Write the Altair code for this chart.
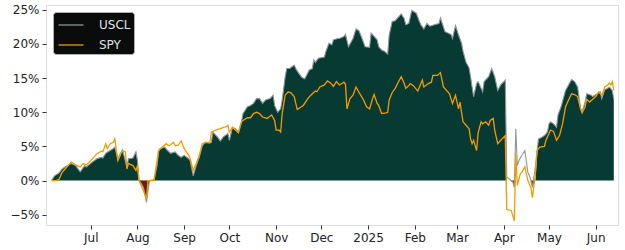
import altair as alt
import pandas as pd

uscl_dates = ["2024-06-05","2024-06-07","2024-06-10","2024-06-12","2024-06-14","2024-06-18","2024-06-21","2024-06-24","2024-06-27","2024-06-28",
 "2024-07-02","2024-07-05","2024-07-08","2024-07-09","2024-07-11","2024-07-16","2024-07-17","2024-07-19","2024-07-22","2024-07-24",
 "2024-07-25","2024-07-26","2024-07-29","2024-07-31","2024-08-01","2024-08-02","2024-08-05","2024-08-07","2024-08-08","2024-08-09",
 "2024-08-12","2024-08-14","2024-08-15","2024-08-16","2024-08-19","2024-08-21","2024-08-23","2024-08-26","2024-08-28","2024-08-30",
 "2024-09-01","2024-09-04","2024-09-05","2024-09-07","2024-09-09","2024-09-11","2024-09-13","2024-09-15","2024-09-19","2024-09-20",
 "2024-09-23","2024-09-25","2024-09-27","2024-09-30","2024-10-01","2024-10-03","2024-10-05","2024-10-07","2024-10-09","2024-10-10",
 "2024-10-13","2024-10-15","2024-10-17","2024-10-19","2024-10-21","2024-10-23","2024-10-25","2024-10-28","2024-10-30","2024-10-31",
 "2024-11-02","2024-11-04","2024-11-05","2024-11-07","2024-11-08","2024-11-10","2024-11-13","2024-11-14","2024-11-16","2024-11-18",
 "2024-11-20","2024-11-23","2024-11-25","2024-11-26","2024-11-27","2024-11-29","2024-12-03","2024-12-04","2024-12-06","2024-12-08",
 "2024-12-09","2024-12-12","2024-12-13","2024-12-16","2024-12-17","2024-12-19","2024-12-22","2024-12-24","2024-12-26","2024-12-28",
 "2024-12-30","2025-01-02","2025-01-03","2025-01-05","2025-01-07","2025-01-08","2025-01-10","2025-01-12","2025-01-14","2025-01-15",
 "2025-01-17","2025-01-19","2025-01-21","2025-01-23","2025-01-25","2025-01-26","2025-01-28","2025-01-30","2025-02-02","2025-02-04",
 "2025-02-05","2025-02-07","2025-02-09","2025-02-11","2025-02-14","2025-02-17","2025-02-18","2025-02-21","2025-02-23","2025-02-25",
 "2025-02-26","2025-02-28","2025-03-02","2025-03-04","2025-03-05","2025-03-07","2025-03-09","2025-03-10","2025-03-11","2025-03-12",
 "2025-03-14","2025-03-15","2025-03-18","2025-03-19","2025-03-22","2025-03-24","2025-03-26","2025-03-28","2025-03-30","2025-04-02",
 "2025-04-03","2025-04-05","2025-04-07","2025-04-08","2025-04-09","2025-04-10","2025-04-11","2025-04-13","2025-04-15","2025-04-17",
 "2025-04-18","2025-04-19","2025-04-20","2025-04-22","2025-04-24","2025-04-26","2025-04-28","2025-04-30","2025-05-01","2025-05-02",
 "2025-05-04","2025-05-06","2025-05-07","2025-05-09","2025-05-12","2025-05-14","2025-05-16","2025-05-18","2025-05-20","2025-05-22",
 "2025-05-23","2025-05-25","2025-05-26","2025-05-29","2025-05-30","2025-06-02","2025-06-04","2025-06-05","2025-06-07","2025-06-09",
 "2025-06-10","2025-06-12","2025-06-13"]
uscl_vals = [0.0,0.7,1.1,1.7,2.0,2.5,2.2,1.3,2.2,2.0,
 2.7,3.2,3.4,3.3,4.0,4.7,4.9,3.2,4.5,2.9,
 1.9,3.2,3.3,4.2,2.9,0.1,-1.0,-3.2,-1.5,0.0,
 0.1,2.2,4.2,4.7,4.9,4.4,4.0,4.2,3.7,3.4,
 3.7,3.2,2.9,0.7,2.2,3.4,5.1,5.6,5.6,7.1,
 6.4,5.8,6.4,6.9,5.9,7.8,7.6,7.1,8.6,9.8,
 10.8,11.0,11.3,12.0,12.0,11.3,11.8,12.0,12.5,11.0,
 10.0,10.5,11.8,15.2,16.4,16.4,16.9,16.4,15.7,15.1,
 14.9,16.2,16.4,17.7,17.3,17.9,18.1,18.9,20.1,19.9,
 20.6,20.8,20.8,21.1,21.4,19.6,20.8,22.2,21.9,20.8,
 19.6,19.5,21.6,21.1,20.6,19.6,19.1,18.9,18.5,21.3,
 23.3,23.4,23.9,24.4,23.7,22.8,23.0,24.9,24.5,23.3,
 22.8,22.2,23.0,22.6,22.8,23.0,23.8,21.8,21.6,21.4,
 20.8,22.7,21.3,20.1,18.9,17.3,16.5,15.2,13.7,12.3,
 14.2,14.5,13.0,14.5,15.2,16.4,15.2,13.2,14.0,14.7,
 0.5,0.2,-0.2,-1.0,7.6,2.2,2.9,3.7,4.4,1.2,
 0.7,0.0,-1.0,2.0,6.1,6.3,6.6,7.1,8.3,8.6,
 8.3,7.8,9.6,10.8,13.2,14.0,14.8,14.5,13.7,10.5,
 10.1,11.5,12.7,12.5,12.3,12.7,13.0,12.0,13.3,13.5,
 13.7,13.2,11.9]

spy_dates = ["2024-06-05","2024-06-08","2024-06-10","2024-06-12","2024-06-14","2024-06-18","2024-06-21","2024-06-24","2024-06-26","2024-06-28",
 "2024-07-01","2024-07-05","2024-07-08","2024-07-09","2024-07-11","2024-07-12","2024-07-14","2024-07-16","2024-07-17","2024-07-18",
 "2024-07-19","2024-07-22","2024-07-24","2024-07-25","2024-07-26","2024-07-29","2024-07-31","2024-08-01","2024-08-02","2024-08-05",
 "2024-08-07","2024-08-08","2024-08-10","2024-08-12","2024-08-14","2024-08-15","2024-08-18","2024-08-20","2024-08-22","2024-08-25",
 "2024-08-26","2024-08-28","2024-08-30","2024-09-01","2024-09-04","2024-09-05","2024-09-07","2024-09-09","2024-09-11","2024-09-13",
 "2024-09-15","2024-09-18","2024-09-19","2024-09-23","2024-09-25","2024-09-27","2024-09-29","2024-09-30","2024-10-01","2024-10-03",
 "2024-10-05","2024-10-07","2024-10-09","2024-10-10","2024-10-13","2024-10-15","2024-10-17","2024-10-19","2024-10-21","2024-10-23",
 "2024-10-26","2024-10-29","2024-10-31","2024-11-01","2024-11-03","2024-11-04","2024-11-05","2024-11-07","2024-11-09","2024-11-11",
 "2024-11-13","2024-11-15","2024-11-17","2024-11-19","2024-11-22","2024-11-24","2024-11-27","2024-11-28","2024-11-30","2024-12-03",
 "2024-12-05","2024-12-07","2024-12-09","2024-12-11","2024-12-13","2024-12-16","2024-12-17","2024-12-18","2024-12-20","2024-12-22",
 "2024-12-24","2024-12-26","2024-12-29","2024-12-31","2025-01-02","2025-01-04","2025-01-05","2025-01-07","2025-01-08","2025-01-10",
 "2025-01-13","2025-01-14","2025-01-15","2025-01-17","2025-01-19","2025-01-21","2025-01-23","2025-01-25","2025-01-26","2025-01-28",
 "2025-01-29","2025-01-31","2025-02-03","2025-02-05","2025-02-06","2025-02-07","2025-02-10","2025-02-12","2025-02-13","2025-02-16",
 "2025-02-18","2025-02-20","2025-02-22","2025-02-24","2025-02-26","2025-02-28","2025-03-02","2025-03-03","2025-03-04","2025-03-05",
 "2025-03-07","2025-03-09","2025-03-10","2025-03-11","2025-03-12","2025-03-14","2025-03-15","2025-03-17","2025-03-18","2025-03-20",
 "2025-03-22","2025-03-23","2025-03-25","2025-03-26","2025-03-28","2025-03-30","2025-04-02","2025-04-03","2025-04-06","2025-04-08",
 "2025-04-09","2025-04-10","2025-04-12","2025-04-13","2025-04-15","2025-04-17","2025-04-19","2025-04-20","2025-04-22","2025-04-23",
 "2025-04-25","2025-04-28","2025-04-29","2025-05-01","2025-05-02","2025-05-04","2025-05-06","2025-05-08","2025-05-10","2025-05-12",
 "2025-05-14","2025-05-16","2025-05-18","2025-05-20","2025-05-22","2025-05-23","2025-05-25","2025-05-26","2025-05-28","2025-05-30",
 "2025-06-01","2025-06-03","2025-06-05","2025-06-07","2025-06-09","2025-06-10","2025-06-11","2025-06-12","2025-06-13"]
spy_vals = [0.0,0.0,0.2,1.2,1.7,2.7,2.3,2.0,2.5,2.3,
 2.9,3.9,4.3,4.2,5.4,4.7,5.4,5.6,6.1,4.4,
 2.9,4.4,4.2,1.7,2.5,2.2,1.5,2.2,0.0,-1.5,
 -2.7,0.0,0.0,0.1,2.9,4.4,5.0,5.4,5.1,5.6,
 5.1,5.2,5.8,4.7,3.7,3.2,1.5,2.5,3.7,5.4,
 5.6,5.5,7.1,7.5,7.6,7.8,7.9,8.1,7.1,7.8,
 7.4,7.0,8.6,8.8,9.2,9.2,9.8,10.0,9.8,9.3,
 9.1,9.6,8.8,7.4,7.4,7.1,9.8,12.5,13.0,12.8,
 12.3,10.4,10.7,11.0,12.0,12.5,13.1,13.0,13.7,14.0,
 14.6,14.3,13.8,14.5,14.0,14.4,14.1,10.5,12.0,12.5,
 13.7,12.9,11.8,10.8,10.5,12.0,12.6,11.3,11.0,9.8,
 9.9,10.0,11.8,12.9,13.5,14.4,15.2,14.2,13.5,13.9,
 14.2,13.9,13.1,14.2,14.7,13.7,14.2,14.4,15.4,15.4,
 15.8,13.7,13.2,12.7,11.3,12.5,10.5,11.5,10.0,8.6,
 8.1,7.6,6.1,5.4,5.9,4.4,7.0,8.6,8.3,8.6,
 8.1,8.8,9.1,7.4,5.4,5.9,6.6,-4.2,-4.4,-5.9,
 3.9,-0.7,1.0,1.2,2.0,0.0,-1.0,-2.5,1.0,4.4,
 4.9,5.0,5.9,6.9,7.4,7.2,5.9,6.6,8.3,10.8,
 11.8,12.7,12.6,12.3,10.5,9.9,10.8,11.9,11.5,11.9,
 12.3,13.0,12.5,13.7,14.0,14.3,14.0,14.5,13.2]

series_names = ["USCL", "SPY"]
series_colors = ["#8c9897", "#f59b00"]
fill_gap = ("2025-04-03", "2025-04-22")
x_ticks = ["2024-07-01","2024-08-01","2024-09-01","2024-10-01","2024-11-01","2024-12-01",
           "2025-01-01","2025-02-01","2025-03-01","2025-04-01","2025-05-01","2025-06-01"]
y_ticks = [-5, 0, 5, 10, 15, 20, 25]
x_domain = ("2024-06-01T08:00:00", "2025-06-15T19:00:00")
y_domain = [-6.5, 25.7]

GREEN = "#073a32"
RED = "#6e1a0c"
BG = "#0a0b0b"

uscl = pd.DataFrame({"date": uscl_dates, "value": uscl_vals})
in_gap = (uscl["date"] >= fill_gap[0]) & (uscl["date"] <= fill_gap[1])
uscl["pos"] = uscl["value"].clip(lower=0).where(~in_gap, 0.0)
uscl["neg"] = uscl["value"].clip(upper=0)
uscl["zero"] = 0.0
uscl["series"] = "USCL"
spy = pd.DataFrame({"date": spy_dates, "value": spy_vals, "series": "SPY"})


def dt(s):
    ts = pd.Timestamp(s)
    return alt.DateTime(year=ts.year, month=ts.month, date=ts.day,
                        hours=ts.hour, utc=True)


xscale = alt.Scale(type="utc", domain=[dt(x_domain[0]), dt(x_domain[1])])
yscale = alt.Scale(domain=y_domain, nice=False, zero=False)

xaxis = alt.Axis(values=[dt(t) for t in x_ticks], grid=False, domain=False,
                 tickSize=4, tickColor="#333333", labelColor="#222222",
                 labelFontSize=12, labelPadding=3, labelFlush=False,
                 labelOverlap=False, title=None,
                 labelExpr="utcFormat(datum.value, '%m') == '01' ? utcFormat(datum.value, '%Y') : utcFormat(datum.value, '%b')")
yaxis = alt.Axis(values=y_ticks, grid=False, domain=False, tickSize=4,
                 tickColor="#333333", labelColor="#222222", labelFontSize=12,
                 labelPadding=3, labelOverlap=False, labelFlush=False,
                 labelBound=False, title=None, format="d",
                 labelExpr="replace(datum.label + '%', '-', '\u2212')")

X = alt.X("date:T", scale=xscale, axis=xaxis)
Ycommon = dict(scale=yscale, axis=yaxis, title=None)

pos_area = alt.Chart(uscl).mark_area(color=GREEN, opacity=1).encode(
    x=X, y=alt.Y("pos:Q", **Ycommon), y2="zero:Q")
neg_area = alt.Chart(uscl).mark_area(color=RED, opacity=1).encode(
    x=X, y=alt.Y("neg:Q", **Ycommon), y2="zero:Q")

color = alt.Color("series:N",
                  scale=alt.Scale(domain=series_names, range=series_colors),
                  legend=alt.Legend(title=None, orient="none", legendX=7, legendY=7,
                                    fillColor=BG, strokeColor="#b0b0b0",
                                    cornerRadius=3, padding=3,
                                    symbolType="M-1.39,0H1.39", symbolSize=324,
                                    symbolStrokeWidth=1.3, symbolOffset=5,
                                    labelOffset=18, rowPadding=4,
                                    labelFontSize=12, labelColor="#dde3ea"))

uscl_line = alt.Chart(uscl).mark_line(strokeWidth=1.1).encode(
    x=X, y=alt.Y("value:Q", **Ycommon), color=color)
spy_line = alt.Chart(spy).mark_line(strokeWidth=1.3).encode(
    x=X, y=alt.Y("value:Q", **Ycommon), color=color)

chart = alt.layer(pos_area, neg_area, uscl_line, spy_line).properties(
    width=572, height=220,
    padding={"left": 46, "top": 5, "right": 7, "bottom": 25},
    autosize=alt.AutoSizeParams(type="none"),
    background="white",
).configure_view(fill=BG, stroke="#c8c8c8", strokeWidth=1
).configure_axisY(labelOverlap=False
).configure(font="DejaVu Sans")

chart.save("out.html", embed_options={"renderer": "svg", "actions": False})
